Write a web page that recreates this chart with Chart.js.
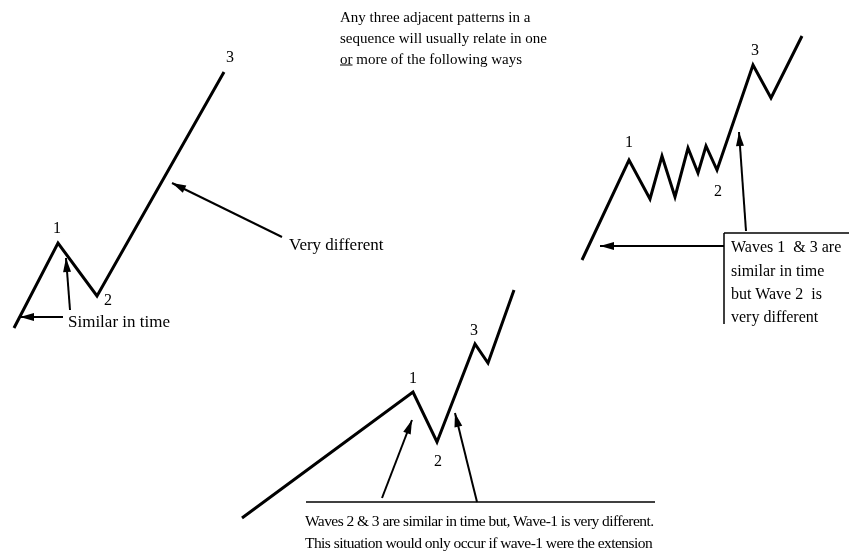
<!DOCTYPE html>
<html>
<head>
<meta charset="utf-8">
<script src="https://cdn.jsdelivr.net/npm/chart.js@4.4.1/dist/chart.umd.min.js"></script>
<style>
  html, body { margin: 0; padding: 0; background: #fff; }
  #wrap { position: relative; width: 852px; height: 555px; overflow: hidden; }
  #c { position: absolute; left: 0; top: 0; }
  .lbl {
    position: absolute; white-space: pre; color: #000;
    font-family: 'Liberation Serif', 'DejaVu Serif', serif;
    line-height: 1; transform: translateY(-50%);
  }
  .num { transform: translate(-50%, -50%); }
</style>
</head>
<body>
<div id="wrap">
  <canvas id="c" width="852" height="555"></canvas>
  <div id="labels"></div>
</div>
<script>
// Wave paths (diagram units: x to the right, y downward, same size as the page)
const leftWaveX   = [14, 58, 97, 224];
const leftWaveY   = [328, 243, 296, 72];
const rightWaveX  = [582, 629, 650, 662, 675, 688, 698, 706, 717, 753, 771, 802];
const rightWaveY  = [260, 160, 199, 156, 197, 148, 173, 146, 170, 65, 98, 36];
const bottomWaveX = [242, 413, 437, 475, 488, 514];
const bottomWaveY = [518, 392, 442, 344, 363, 290];

// Arrows: [fromX, fromY, toX, toY]  (arrowhead at "to")
const arrows = [
  [282, 237, 172, 183],
  [63, 317, 20, 317],
  [70, 310, 66, 258],
  [746, 231, 739, 132],
  [724, 246, 600, 246],
  [382, 498, 412, 420],
  [477, 502, 455, 413]
];

// Plain rules (box edges, underline bar)
const rules = [
  [[724, 233], [849, 233]],
  [[724, 233], [724, 324]],
  [[306, 502], [655, 502]]
];

// Text annotations
const labels = [
  { t: 'Any three adjacent patterns in a', x: 340, y: 17, s: 15 },
  { t: 'sequence will usually relate in one', x: 340, y: 38, s: 15 },
  { h: '<u>or</u> more of the following ways', x: 340, y: 59, s: 15 },
  { t: '1', x: 57, y: 228, s: 16, n: true },
  { t: '2', x: 108, y: 300, s: 16, n: true },
  { t: '3', x: 230, y: 57, s: 16, n: true },
  { t: 'Similar in time', x: 68, y: 321, s: 17 },
  { t: 'Very different', x: 289, y: 244, s: 17 },
  { t: '1', x: 629, y: 142, s: 16, n: true },
  { t: '2', x: 718, y: 191, s: 16, n: true },
  { t: '3', x: 755, y: 50, s: 16, n: true },
  { t: 'Waves 1  & 3 are', x: 731, y: 247, s: 16 },
  { t: 'similar in time', x: 731, y: 271, s: 16 },
  { t: 'but Wave 2  is', x: 731, y: 294, s: 16 },
  { t: 'very different', x: 731, y: 317, s: 16 },
  { t: '1', x: 413, y: 378, s: 16, n: true },
  { t: '2', x: 438, y: 461, s: 16, n: true },
  { t: '3', x: 474, y: 330, s: 16, n: true },
  { t: 'Waves 2 & 3 are similar in time but, Wave-1 is very different.', x: 305, y: 521, s: 15.5, ls: -0.55 },
  { t: 'This situation would only occur if wave-1 were the extension', x: 305, y: 543, s: 15.5, ls: -0.55 }
];

const pts = (xs, ys) => xs.map((x, i) => ({ x, y: ys[i] }));

const datasets = [];
[[leftWaveX, leftWaveY], [rightWaveX, rightWaveY], [bottomWaveX, bottomWaveY]].forEach(([xs, ys]) => {
  datasets.push({ data: pts(xs, ys), borderWidth: 3 });
});
arrows.forEach(a => {
  datasets.push({ data: [{ x: a[0], y: a[1] }, { x: a[2], y: a[3] }], borderWidth: 2, arrow: true });
});
rules.forEach(r => {
  datasets.push({ data: r.map(p => ({ x: p[0], y: p[1] })), borderWidth: 1.5 });
});
datasets.forEach(d => Object.assign(d, {
  showLine: true, borderColor: '#000', pointRadius: 0, tension: 0,
  borderJoinStyle: 'miter', borderCapStyle: 'butt'
}));

const arrowHeads = {
  id: 'arrowHeads',
  afterDatasetsDraw(chart) {
    const ctx = chart.ctx;
    chart.data.datasets.forEach((ds, i) => {
      if (!ds.arrow) return;
      const el = chart.getDatasetMeta(i).data;
      const p0 = el[0], p1 = el[1];
      const ang = Math.atan2(p1.y - p0.y, p1.x - p0.x);
      const len = 14, half = 4;
      ctx.save();
      ctx.fillStyle = '#000';
      ctx.translate(p1.x, p1.y);
      ctx.rotate(ang);
      ctx.beginPath();
      ctx.moveTo(0, 0);
      ctx.lineTo(-len, -half);
      ctx.lineTo(-len, half);
      ctx.closePath();
      ctx.fill();
      ctx.restore();
    });
  }
};

const placeLabels = {
  id: 'placeLabels',
  afterRender(chart) {
    const box = document.getElementById('labels');
    if (box.childElementCount) return;
    const sx = chart.scales.x, sy = chart.scales.y;
    labels.forEach(l => {
      const d = document.createElement('div');
      d.className = 'lbl' + (l.n ? ' num' : '');
      if (l.h) d.innerHTML = l.h; else d.textContent = l.t;
      d.style.left = sx.getPixelForValue(l.x) + 'px';
      d.style.top = sy.getPixelForValue(l.y) + 'px';
      d.style.fontSize = l.s + 'px';
      if (l.ls) d.style.letterSpacing = l.ls + 'px';
      box.appendChild(d);
    });
  }
};

new Chart(document.getElementById('c'), {
  type: 'scatter',
  data: { datasets },
  options: {
    responsive: false,
    animation: false,
    events: [],
    layout: { padding: 0 },
    scales: {
      x: { type: 'linear', min: 0, max: 852, display: false },
      y: { type: 'linear', min: 0, max: 555, reverse: true, display: false }
    },
    plugins: { legend: { display: false }, tooltip: { enabled: false } }
  },
  plugins: [arrowHeads, placeLabels]
});
</script>
</body>
</html>
